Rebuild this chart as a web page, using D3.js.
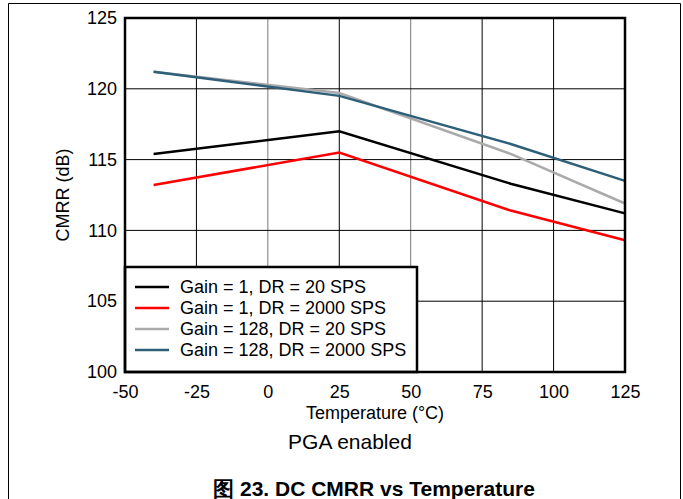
<!DOCTYPE html>
<html>
<head>
<meta charset="utf-8">
<script src="https://cdn.jsdelivr.net/npm/d3@7"></script>
<style>
  body { margin: 0; background: #fff; }
  text { font-family: "Liberation Sans", Arial, sans-serif; fill: #000; }
</style>
</head>
<body>
<div id="chart"></div>
<script>
// temperatures where CMRR was measured
const temps = [-40, 25, 85, 125];
const gain1Dr20 = [115.4, 117.0, 113.3, 111.2];
const gain1Dr2000 = [113.2, 115.5, 111.4, 109.3];
const gain128Dr20 = [121.2, 119.7, 115.4, 111.9];
const gain128Dr2000 = [121.2, 119.5, 116.1, 113.5];
const seriesNames = ["Gain = 1, DR = 20 SPS", "Gain = 1, DR = 2000 SPS", "Gain = 128, DR = 20 SPS", "Gain = 128, DR = 2000 SPS"];
const xTicks = [-50, -25, 0, 25, 50, 75, 100, 125];
const yTicks = [100, 105, 110, 115, 120, 125];

const colors = ["#000000", "#ff0000", "#aaaaaa", "#2e5f78"];
const seriesVals = [gain1Dr20, gain1Dr2000, gain128Dr20, gain128Dr2000];

const W = 683, H = 499;
const margin = { top: 18, right: 58, bottom: 127, left: 125 };
const width = W - margin.left - margin.right,
    height = H - margin.top - margin.bottom;
const fontFam = "'Liberation Sans', Arial, sans-serif";

const svg = d3.select("#chart").append("svg")
    .attr("width", W)
    .attr("height", H);

// outer figure frame
svg.append("path")
    .attr("d", "M8.5,499 V3.5 H680.5 V499")
    .attr("fill", "none")
    .attr("stroke", "#000")
    .attr("stroke-width", 1);

const g = svg.append("g")
    .attr("transform", "translate(" + margin.left + "," + margin.top + ")");

const x = d3.scaleLinear().domain([-50, 125]).range([0, width]);
const y = d3.scaleLinear().domain([100, 125]).range([height, 0]);

// grid
g.append("g")
    .selectAll("line")
    .data(xTicks.slice(1, -1))
    .join("line")
    .attr("x1", d => x(d)).attr("x2", d => x(d))
    .attr("y1", 0).attr("y2", height)
    .attr("stroke", d => (d === 0 || d === 50) ? "#777" : "#000")
    .attr("stroke-width", 1);

g.append("g")
    .selectAll("line")
    .data(yTicks.slice(1, -1))
    .join("line")
    .attr("x1", 0).attr("x2", width)
    .attr("y1", d => y(d)).attr("y2", d => y(d))
    .attr("stroke", "#000")
    .attr("stroke-width", 1);

// axes labels
const xAxis = g.append("g")
    .attr("transform", "translate(0," + height + ")")
    .call(d3.axisBottom(x).tickValues(xTicks).tickFormat(d => String(d)).tickSize(0).tickPadding(13));
xAxis.select(".domain").remove();
xAxis.selectAll("text").style("font-size", "18px").style("font-family", fontFam);

const yAxis = g.append("g")
    .call(d3.axisLeft(y).tickValues(yTicks).tickSize(0).tickPadding(8));
yAxis.select(".domain").remove();
yAxis.selectAll("text").style("font-size", "18px").style("font-family", fontFam);

// lines
const line = d3.line()
    .x((d, i) => x(temps[i]))
    .y(d => y(d));

g.append("g")
    .selectAll("path")
    .data(seriesVals)
    .join("path")
    .attr("d", d => line(d))
    .attr("fill", "none")
    .attr("stroke", (d, i) => colors[i])
    .attr("stroke-width", 2.5);

// legend
const legend = g.append("g")
    .attr("transform", "translate(0," + (height - 105) + ")");

legend.append("rect")
    .attr("width", 292)
    .attr("height", 105)
    .attr("fill", "#fff")
    .attr("stroke", "#000")
    .attr("stroke-width", 2.5);

const items = legend.selectAll(".item")
    .data(seriesNames)
    .join("g")
    .attr("class", "item")
    .attr("transform", (d, i) => "translate(0," + (20 + i * 21) + ")");

items.append("line")
    .attr("x1", 10).attr("x2", 44)
    .attr("stroke", (d, i) => colors[i])
    .attr("stroke-width", 2.5);

items.append("text")
    .attr("x", 55)
    .attr("dy", "0.35em")
    .style("font-size", "18px")
    .text(d => d);

// plot border
g.append("rect")
    .attr("width", width)
    .attr("height", height)
    .attr("fill", "none")
    .attr("stroke", "#000")
    .attr("stroke-width", 2.5);

// axis titles
g.append("text")
    .attr("transform", "translate(-56," + (height / 2) + ") rotate(-90)")
    .attr("text-anchor", "middle")
    .style("font-size", "18px")
    .text("CMRR (dB)");

svg.append("text")
    .attr("x", margin.left + width / 2)
    .attr("y", 419)
    .attr("text-anchor", "middle")
    .style("font-size", "18px")
    .text("Temperature (°C)");

svg.append("text")
    .attr("x", margin.left + width / 2 - 25)
    .attr("y", 449)
    .attr("text-anchor", "middle")
    .style("font-size", "21px")
    .text("PGA enabled");

svg.append("text")
    .attr("x", 374)
    .attr("y", 496)
    .attr("text-anchor", "middle")
    .style("font-size", "21px")
    .style("font-weight", "bold")
    .text("图 23. DC CMRR vs Temperature");
</script>
</body>
</html>
